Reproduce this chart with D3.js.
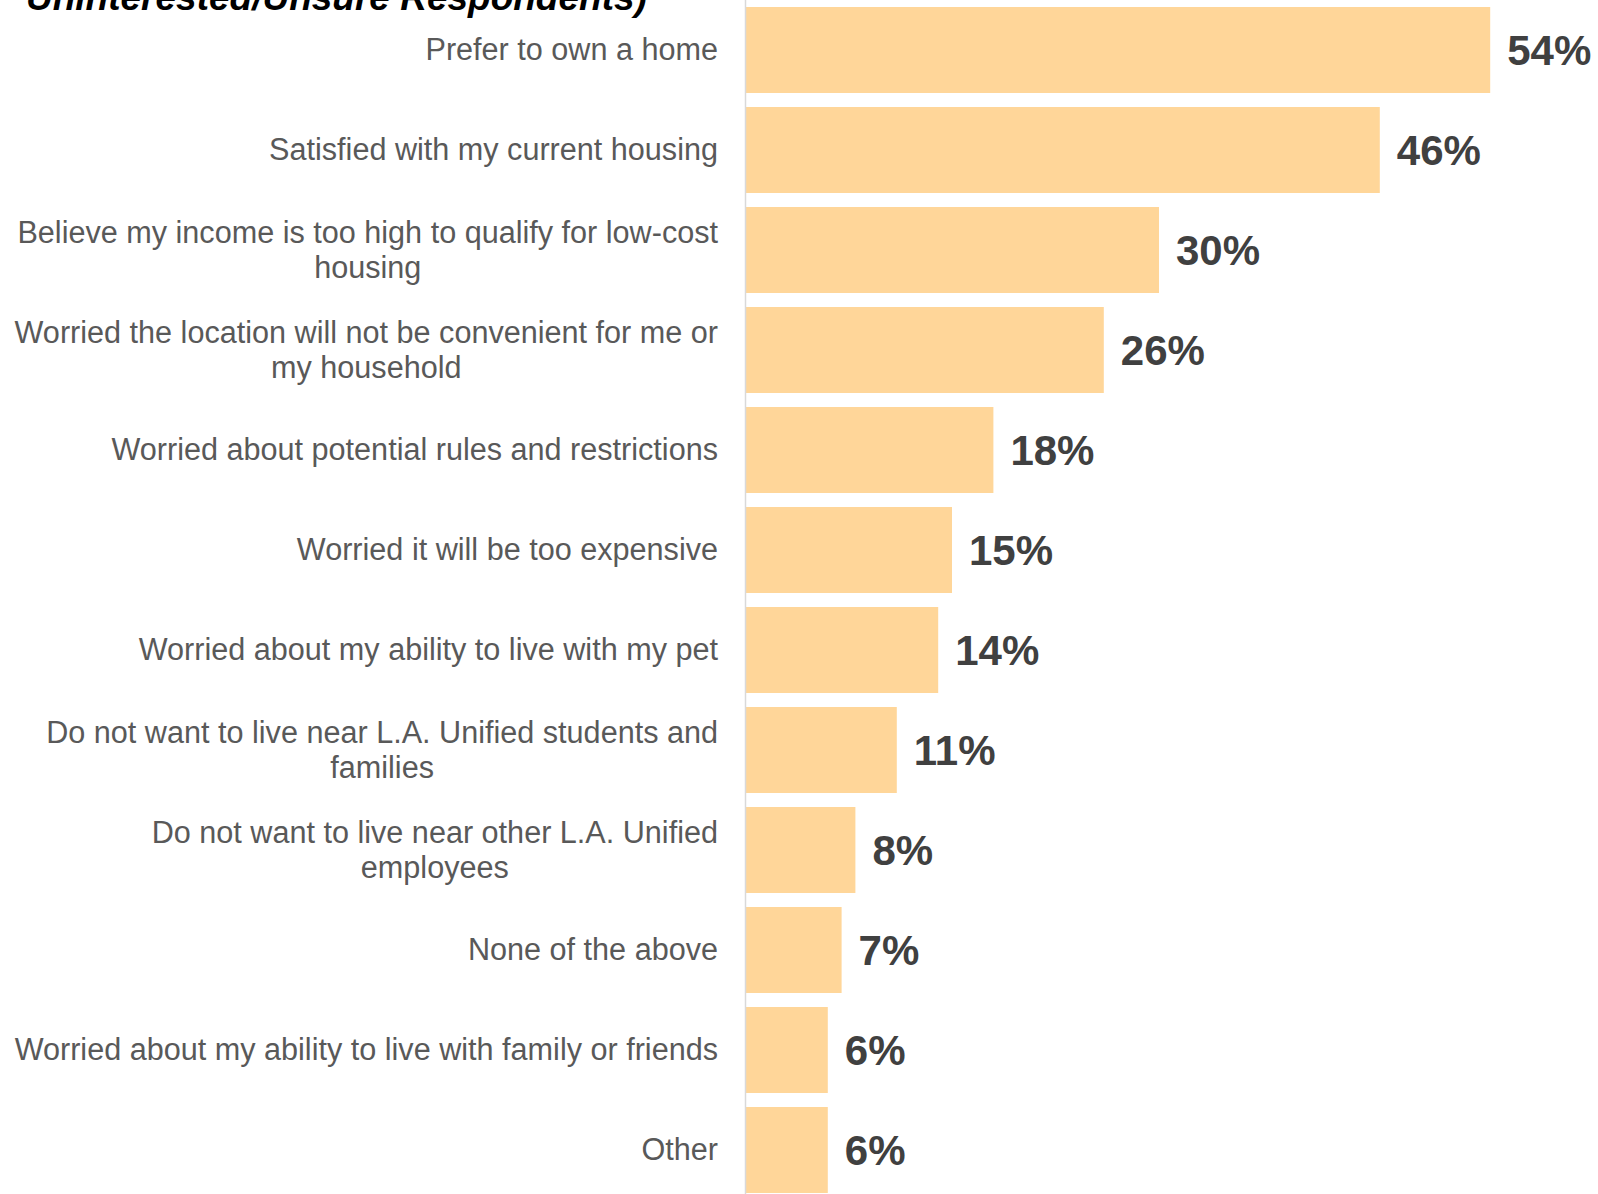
<!DOCTYPE html>
<html>
<head>
<meta charset="utf-8">
<script src="https://cdn.jsdelivr.net/npm/d3@7"></script>
<style>
  html, body { margin: 0; padding: 0; background: #ffffff; }
  svg { display: block; }
</style>
</head>
<body>
<svg id="chart" width="1598" height="1194"></svg>
<script>
// Reasons given by uninterested/unsure respondents (share of respondents)
const titleText = "Uninterested/Unsure Respondents)";

const categories = [
  "Prefer to own a home",
  "Satisfied with my current housing",
  "Believe my income is too high to qualify for low-cost\nhousing",
  "Worried the location will not be convenient for me or\nmy household",
  "Worried about potential rules and restrictions",
  "Worried it will be too expensive",
  "Worried about my ability to live with my pet",
  "Do not want to live near L.A. Unified students and\nfamilies",
  "Do not want to live near other L.A. Unified\nemployees",
  "None of the above",
  "Worried about my ability to live with family or friends",
  "Other"
];

const values = [54, 46, 30, 26, 18, 15, 14, 11, 8, 7, 6, 6];

const W = 1598, H = 1194;
const svg = d3.select("#chart");

const x = d3.scaleLinear().domain([0, 60]).range([745, 745 + 60 * 13.8]);
const y = d3.scaleBand()
  .domain(categories)
  .range([0, 1200])
  .paddingInner(0.14)
  .paddingOuter(0.07);

// bars
svg.append("g")
  .selectAll("rect")
  .data(categories)
  .join("rect")
  .attr("x", x(0))
  .attr("y", d => y(d))
  .attr("width", (d, i) => x(values[i]) - x(0))
  .attr("height", y.bandwidth())
  .attr("fill", "#FFD699");

// value labels
svg.append("g")
  .selectAll("text")
  .data(categories)
  .join("text")
  .attr("x", (d, i) => x(values[i]) + 17)
  .attr("y", d => y(d) + y.bandwidth() / 2)
  .attr("dy", "0.35em")
  .attr("font-family", "'Liberation Sans', Arial, sans-serif")
  .attr("font-weight", "bold")
  .attr("font-size", 42)
  .attr("fill", "#404040")
  .text((d, i) => values[i] + "%");

// category labels: block right-aligned to the axis, lines centred within the block
const labelRight = 718;
const lineH = 35;
const labelG = svg.append("g")
  .attr("font-family", "'Liberation Sans', Arial, sans-serif")
  .attr("font-size", 30.6)
  .attr("fill", "#595959");

categories.forEach(cat => {
  const lines = cat.split("\n");
  const cy = y(cat) + y.bandwidth() / 2;
  const t = labelG.append("text").attr("text-anchor", "middle");
  const spans = lines.map((ln, k) =>
    t.append("tspan")
      .attr("y", cy + (k - (lines.length - 1) / 2) * lineH)
      .attr("dy", "0.33em")
      .text(ln)
  );
  const widest = d3.max(spans, s => s.node().getComputedTextLength());
  spans.forEach(s => s.attr("x", labelRight - widest / 2));
});

// vertical axis line
svg.append("line")
  .attr("x1", x(0) + 0.5).attr("x2", x(0) + 0.5)
  .attr("y1", 0).attr("y2", H)
  .attr("stroke", "#D9D9D9")
  .attr("stroke-width", 1.5);

// title (continuation line)
svg.append("text")
  .attr("x", 26)
  .attr("y", 10)
  .attr("font-family", "'Liberation Sans', Arial, sans-serif")
  .attr("font-weight", "bold")
  .attr("font-style", "italic")
  .attr("font-size", 37)
  .attr("fill", "#000000")
  .text(titleText);
</script>
</body>
</html>
